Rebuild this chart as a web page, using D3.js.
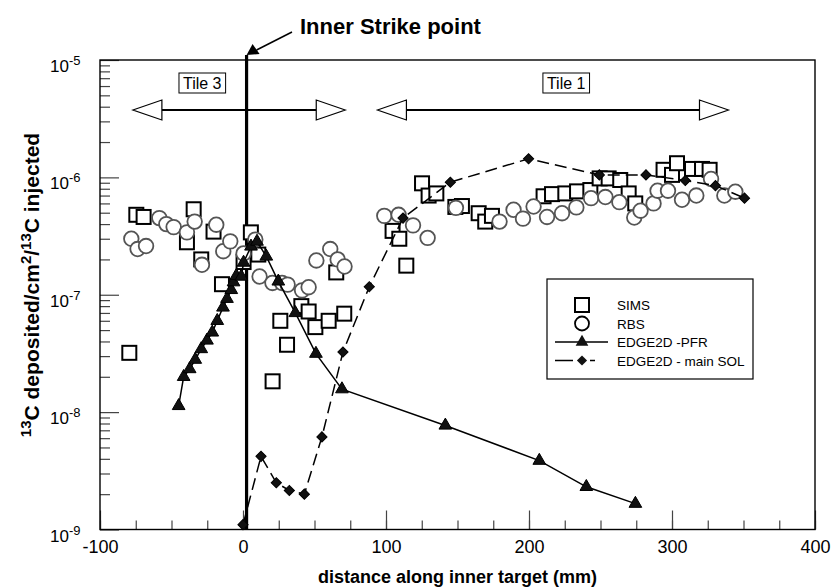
<!DOCTYPE html>
<html>
<head>
<meta charset="utf-8">
<script src="https://cdn.jsdelivr.net/npm/d3@7"></script>
<style>
  body { margin: 0; background: #fff; }
  svg { font-family: "Liberation Sans", Arial, Helvetica, sans-serif; }
</style>
</head>
<body>
<div class="container-svg"><svg width="834" height="588"></svg></div>
<script>

// dados (x em mm, y em 13C depositado/cm2/13C injetado)

const sims = [
  [-79.5, 3.2e-8], [-74.6, 4.8e-7], [-69.5, 4.6e-7], [-39.2, 2.8e-7], [-34.5, 5.35e-7],
  [-29.2, 2.0e-7], [-20.6, 3.45e-7], [-14.7, 1.23e-7], [0.4, 1.9e-7], [5.5, 3.4e-7],
  [10.7, 2.2e-7], [20.7, 1.83e-8], [26.1, 6.0e-8], [30.8, 3.75e-8], [40.8, 8.0e-8],
  [45.9, 7.2e-8], [50.6, 5.3e-8], [59.9, 6.0e-8], [65.2, 1.55e-7], [70.8, 6.9e-8],
  [104.6, 3.5e-7], [109.3, 3.0e-7], [114.2, 1.77e-7], [125.2, 8.9e-7], [129.8, 7.0e-7],
  [135.2, 7.3e-7], [148.5, 5.6e-7], [153.1, 5.7e-7], [164.8, 4.95e-7], [169.4, 4.2e-7],
  [174.1, 4.7e-7], [210.2, 6.9e-7], [216.1, 7.2e-7], [225.4, 7.3e-7], [233.6, 7.6e-7],
  [242.9, 7.8e-7], [249.4, 9.8e-7], [255.7, 9.8e-7], [263.8, 9.5e-7], [269.7, 7.3e-7],
  [274.3, 6.0e-7], [294.1, 1.16e-6], [300, 1.05e-6], [303.5, 1.32e-6], [314, 1.18e-6],
  [321, 1.18e-6], [326.3, 1.16e-6]
];

const rbs = [
  [-78.1, 3.0e-7], [-73.7, 2.45e-7], [-67.8, 2.6e-7], [-58.5, 4.5e-7], [-53.6, 4.0e-7],
  [-48.5, 3.77e-7], [-39.2, 3.4e-7], [-33.8, 4.2e-7], [-28.7, 1.8e-7], [-18.7, 3.95e-7],
  [-13.8, 2.35e-7], [-8.9, 2.85e-7], [0.4, 2.25e-7], [8.6, 2.95e-7], [11.6, 1.43e-7],
  [20.6, 1.26e-7], [27.3, 1.26e-7], [31.2, 1.22e-7], [41.3, 1.09e-7], [45.9, 1.16e-7],
  [51.3, 1.96e-7], [61.0, 2.45e-7], [66.2, 2.0e-7], [71.0, 1.74e-7], [98.8, 4.7e-7],
  [108.8, 4.8e-7], [118.9, 3.9e-7], [129.1, 3.05e-7], [148.9, 5.5e-7], [179.4, 4.2e-7],
  [189.2, 5.3e-7], [195.8, 4.45e-7], [203.2, 5.65e-7], [212.6, 4.6e-7], [223.1, 4.95e-7],
  [233.1, 5.55e-7], [243.4, 6.65e-7], [253.4, 6.8e-7], [263.2, 6.15e-7], [273.6, 4.55e-7],
  [278, 5.2e-7], [287.1, 6.0e-7], [289.9, 7.7e-7], [297.2, 7.7e-7], [307, 6.45e-7],
  [317, 7.0e-7], [327.3, 9.7e-7], [336.6, 7.0e-7], [344.3, 7.55e-7]
];

const pfr = [
  [-45.0, 1.13e-8], [-41.5, 2.0e-8], [-37.3, 2.33e-8], [-33.4, 2.8e-8], [-29.2, 3.45e-8],
  [-25.2, 4.08e-8], [-21.5, 4.78e-8], [-18.0, 6.0e-8], [-14.0, 7.8e-8], [-11.2, 9.25e-8],
  [-8.2, 1.1e-7], [-6.6, 1.28e-7], [-4.7, 1.45e-7], [-1.2, 1.43e-7], [0.4, 1.88e-7],
  [5.6, 2.58e-7], [9.8, 2.84e-7], [16.3, 2.12e-7], [24.7, 1.3e-7], [36.6, 7.0e-8],
  [51.0, 3.15e-8], [69.2, 1.57e-8], [141.5, 7.7e-9], [207.2, 3.86e-9], [240.1, 2.31e-9],
  [274.4, 1.66e-9]
];

const main_sol = [
  [0, 1.1e-9], [12.6, 4.2e-9], [23.3, 2.5e-9], [32.4, 2.15e-9], [42.9, 2.0e-9],
  [55.2, 6.15e-9], [69.9, 3.25e-8], [88.3, 1.17e-7], [111.9, 4.5e-7], [145, 9.1e-7],
  [199.7, 1.44e-6], [249.2, 1.05e-6], [281.8, 1.05e-6], [309.3, 9.4e-7], [330.4, 8.5e-7],
  [350.7, 6.65e-7]
];

const x_ticks = [-100, 0, 100, 200, 300, 400];
const x_minor = d3.range(-100, 401, 25);
const y_decades = [-9, -8, -7, -6, -5];
const strike_x = 2.5;
const tiles = [
  { label: "Tile 3", from: -77, to: 71.5, label_at: -28.5 },
  { label: "Tile 1", from: 94, to: 339.5, label_at: 226 }
];
const legend_labels = ["SIMS", "RBS", "EDGE2D -PFR", "EDGE2D - main SOL"];

const vis = {

    sels : {
        svg : null
    },

    dims : {
        left : 100,
        right : 815,
        top : 60,
        bottom : 529.5
    },

    scales : {
        x : null,
        y : null
    },

    utils : {

        sup_label : function(sel, base, expo) {
            sel.append("tspan").text(base);
            sel.append("tspan")
              .attr("font-size", 13)
              .attr("dy", -7)
              .text(expo);
        }

    },

    render : {

        axes : function() {

            const svg = vis.sels.svg;
            const d = vis.dims;
            const x = vis.scales.x, y = vis.scales.y;

            // ticks menores do eixo x
            svg.append("g")
              .attr("transform", `translate(0,${d.bottom})`)
              .call(d3.axisBottom(x).tickValues(x_minor).tickSize(-9).tickFormat(""))
              .call(g => g.select(".domain").remove())
              .selectAll("line").attr("stroke", "#444").attr("stroke-width", 1.2);

            svg.append("g")
              .attr("transform", `translate(0,${d.bottom})`)
              .call(d3.axisBottom(x).tickValues(x_ticks).tickSize(-19).tickPadding(11).tickFormat(v => String(v)))
              .call(g => g.select(".domain").remove())
              .call(g => g.selectAll("line").attr("stroke", "#444").attr("stroke-width", 1.2))
              .call(g => g.selectAll("text")
                  .attr("font-size", 18)
                  .attr("fill", "#000")
                  .style("font-family", "Liberation Sans, Arial, sans-serif"));

            // eixo y log: ticks menores 2..9
            const minor = [];
            y_decades.slice(0, -1).forEach(e => {
                for (let k = 2; k <= 9; k++) minor.push(k * Math.pow(10, e));
            });

            svg.append("g")
              .attr("transform", `translate(${d.left},0)`)
              .call(d3.axisLeft(y).tickValues(minor).tickSize(-10).tickFormat(""))
              .call(g => g.select(".domain").remove())
              .selectAll("line").attr("stroke", "#444").attr("stroke-width", 1.2);

            svg.append("g")
              .attr("transform", `translate(${d.left},0)`)
              .call(d3.axisLeft(y).tickValues(y_decades.map(e => Math.pow(10, e))).tickSize(-19).tickFormat(""))
              .call(g => g.select(".domain").remove())
              .selectAll("line").attr("stroke", "#444").attr("stroke-width", 1.2);

            svg.append("g")
              .selectAll("text")
              .data(y_decades)
              .join("text")
              .attr("x", 50)
              .attr("y", e => y(Math.pow(10, e)) + 12)
              .attr("font-size", 17)
              .each(function(e) { vis.utils.sup_label(d3.select(this), "10", String(e)); });

            // moldura
            svg.append("rect")
              .attr("x", d.left)
              .attr("y", d.top)
              .attr("width", d.right - d.left)
              .attr("height", d.bottom - d.top)
              .attr("fill", "none")
              .attr("stroke", "#000")
              .attr("stroke-width", 1.4);

            // titulos
            svg.append("text")
              .attr("x", (d.left + d.right) / 2)
              .attr("y", 583)
              .attr("text-anchor", "middle")
              .attr("font-size", 18)
              .attr("font-weight", "bold")
              .text("distance along inner target (mm)");

            const yt = svg.append("text")
              .attr("transform", "translate(39,285) rotate(-90)")
              .attr("text-anchor", "middle")
              .attr("font-size", 21)
              .attr("font-weight", "bold");
            [["13", true], ["C deposited/cm", false], ["2", true], ["/", false], ["13", true], ["C injected", false]]
              .forEach(([t, sup]) => {
                  const ts = yt.append("tspan").text(t);
                  if (sup) ts.attr("font-size", 15).attr("baseline-shift", "super");
              });

        },

        annotations : function() {

            const svg = vis.sels.svg;
            const x = vis.scales.x;
            const d = vis.dims;
            const ay = 110;

            // setas das telhas
            tiles.forEach(t => {
                const x0 = x(t.from), x1 = x(t.to);
                svg.append("line")
                  .attr("x1", x0 + 29).attr("x2", x1 - 29)
                  .attr("y1", ay).attr("y2", ay)
                  .attr("stroke", "#000").attr("stroke-width", 2);
                svg.append("path")
                  .attr("d", `M${x0},${ay} L${x0 + 29},${ay - 10} L${x0 + 29},${ay + 10} Z`)
                  .attr("fill", "#fff").attr("stroke", "#000").attr("stroke-width", 1.2);
                svg.append("path")
                  .attr("d", `M${x1},${ay} L${x1 - 29},${ay - 10} L${x1 - 29},${ay + 10} Z`)
                  .attr("fill", "#fff").attr("stroke", "#000").attr("stroke-width", 1.2);

                const box = svg.append("rect");
                const lbl = svg.append("text")
                  .attr("x", x(t.label_at))
                  .attr("y", 89)
                  .attr("text-anchor", "middle")
                  .attr("font-size", 16)
                  .text(t.label);
                const bb = lbl.node().getBBox();
                box.attr("x", bb.x - 4).attr("y", 73)
                  .attr("width", bb.width + 8).attr("height", 20)
                  .attr("fill", "#fff").attr("stroke", "#000").attr("stroke-width", 1);
            });

            // linha do ponto de impacto
            const sx = x(strike_x);
            svg.append("line")
              .attr("x1", sx).attr("x2", sx)
              .attr("y1", 55).attr("y2", d.bottom)
              .attr("stroke", "#000").attr("stroke-width", 3.2);

            svg.append("line")
              .attr("x1", 292).attr("y1", 32)
              .attr("x2", sx + 10).attr("y2", 50)
              .attr("stroke", "#000").attr("stroke-width", 1.5);
            svg.append("path")
              .attr("d", `M${sx},55 L${sx + 6},44 L${sx + 13},54 Z`)
              .attr("fill", "#000");

            svg.append("text")
              .attr("x", 300)
              .attr("y", 34)
              .attr("font-size", 22)
              .attr("font-weight", "bold")
              .text("Inner Strike point");

        },

        marks : function() {

            const svg = vis.sels.svg;
            const x = vis.scales.x, y = vis.scales.y;

            svg.append("g")
              .selectAll("rect")
              .data(sims)
              .join("rect")
              .attr("x", p => x(p[0]) - 7)
              .attr("y", p => y(p[1]) - 7)
              .attr("width", 14)
              .attr("height", 14)
              .attr("fill", "#fff")
              .attr("stroke", "#000")
              .attr("stroke-width", 2);

            svg.append("g")
              .selectAll("circle")
              .data(rbs)
              .join("circle")
              .attr("cx", p => x(p[0]))
              .attr("cy", p => y(p[1]))
              .attr("r", 7.3)
              .attr("fill", "#fff")
              .attr("stroke", "#555")
              .attr("stroke-width", 1.8);

            const line = d3.line().x(p => x(p[0])).y(p => y(p[1]));

            svg.append("path")
              .datum(main_sol)
              .attr("d", line)
              .attr("fill", "none")
              .attr("stroke", "#000")
              .attr("stroke-width", 1.5)
              .attr("stroke-dasharray", "12,6");

            svg.append("path")
              .datum(pfr)
              .attr("d", line)
              .attr("fill", "none")
              .attr("stroke", "#000")
              .attr("stroke-width", 1.5);

            const tri = d3.symbol().type(d3.symbolTriangle).size(70);
            const dia = d3.symbol().type(d3.symbolSquare).size(52);

            svg.append("g")
              .selectAll("path")
              .data(pfr)
              .join("path")
              .attr("d", tri)
              .attr("transform", p => `translate(${x(p[0])},${y(p[1])})`)
              .attr("fill", "#111")
              .attr("stroke", "#000");

            svg.append("g")
              .selectAll("path")
              .data(main_sol)
              .join("path")
              .attr("d", dia)
              .attr("transform", p => `translate(${x(p[0])},${y(p[1])}) rotate(45)`)
              .attr("fill", "#111")
              .attr("stroke", "#000");

        },

        legend : function() {

            const svg = vis.sels.svg;
            const g = svg.append("g");
            const rows = [305, 323.5, 342, 360.5];

            g.append("rect")
              .attr("x", 547).attr("y", 279)
              .attr("width", 206).attr("height", 100)
              .attr("fill", "#fff")
              .attr("stroke", "#000")
              .attr("stroke-width", 1.2);

            g.selectAll("text")
              .data(legend_labels)
              .join("text")
              .attr("x", 617)
              .attr("y", (t, i) => rows[i] + 5)
              .attr("font-size", 13.5)
              .text(t => t);

            g.append("rect")
              .attr("x", 575).attr("y", rows[0] - 7)
              .attr("width", 14).attr("height", 14)
              .attr("fill", "#fff").attr("stroke", "#000").attr("stroke-width", 2);

            g.append("circle")
              .attr("cx", 582).attr("cy", rows[1]).attr("r", 7)
              .attr("fill", "#fff").attr("stroke", "#000").attr("stroke-width", 1.8);

            g.append("line")
              .attr("x1", 555).attr("x2", 608)
              .attr("y1", rows[2]).attr("y2", rows[2])
              .attr("stroke", "#000").attr("stroke-width", 1.5);
            g.append("path")
              .attr("d", d3.symbol().type(d3.symbolTriangle).size(70)())
              .attr("transform", `translate(582,${rows[2]})`)
              .attr("fill", "#111");

            g.append("line")
              .attr("x1", 555).attr("x2", 608)
              .attr("y1", rows[3]).attr("y2", rows[3])
              .attr("stroke", "#000").attr("stroke-width", 1.5)
              .attr("stroke-dasharray", "18,8,0,9,5");
            g.append("path")
              .attr("d", d3.symbol().type(d3.symbolSquare).size(52)())
              .attr("transform", `translate(582,${rows[3]}) rotate(45)`)
              .attr("fill", "#111");

        }

    },

    control : {

        init : function() {

            vis.sels.svg = d3.select("svg");

            vis.scales.x = d3.scaleLinear()
              .domain([-100, 400])
              .range([vis.dims.left, vis.dims.right]);

            vis.scales.y = d3.scaleLog()
              .domain([1e-9, 1e-5])
              .range([vis.dims.bottom, vis.dims.top]);

            vis.render.axes();
            vis.render.annotations();
            vis.render.marks();
            vis.render.legend();

        }

    }

}

vis.control.init();
</script>
</body>
</html>
